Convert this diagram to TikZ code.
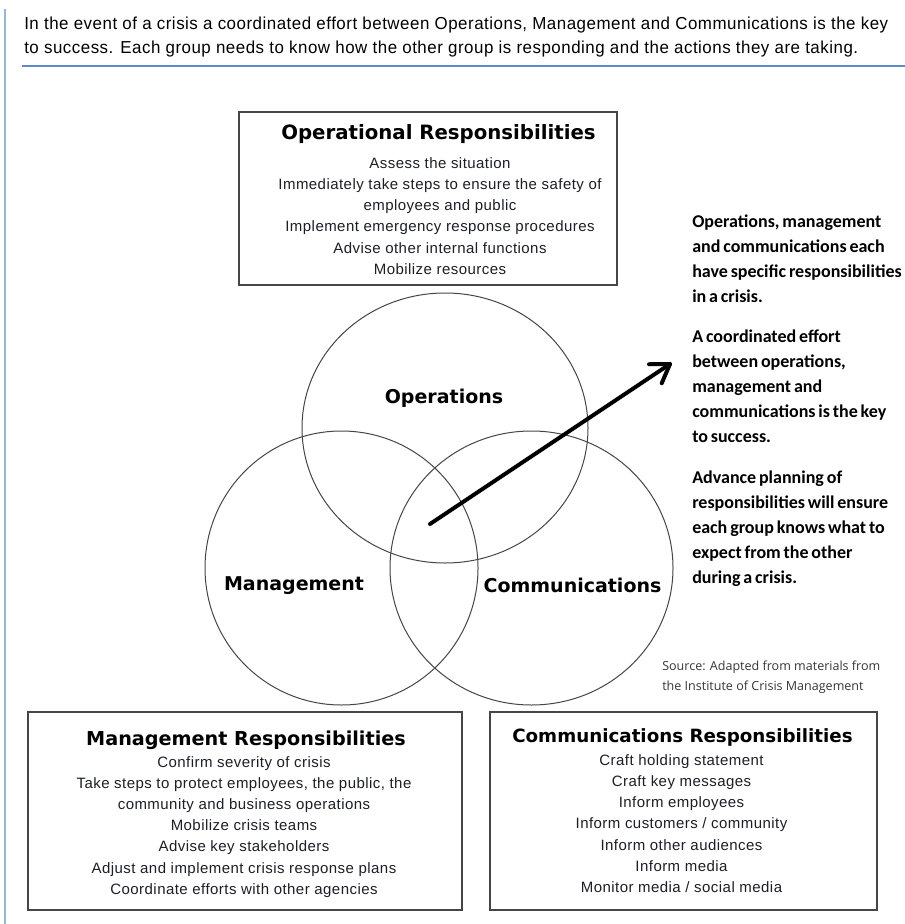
\documentclass[tikz,border=0pt]{standalone}
\usepackage{fontspec}
\usepackage{graphicx}
\setmainfont{Liberation Sans}
\newfontfamily\leadfont{Liberation Sans}[LetterSpace=3]
\newfontfamily\itemfont{Liberation Sans}[LetterSpace=3]
\newfontfamily\headfont{DejaVu Sans}
\newfontfamily\notefont{Carlito}[WordSpace=0.7]
\newfontfamily\srcfont{Open Sans}
\usetikzlibrary{arrows.meta,shapes.geometric,shadows,calc}

\definecolor{rulecol}{RGB}{91,139,201}
\definecolor{margincol}{RGB}{150,182,226}
\definecolor{framecol}{RGB}{70,70,70}
\definecolor{ringcol}{RGB}{70,70,70}
\definecolor{inkcol}{RGB}{30,30,40}
\definecolor{srccol}{RGB}{55,55,55}

\tikzset{
  panel/.style={draw=framecol, fill=white, line width=1.2pt, rectangle, inner sep=0pt,
    drop shadow={shadow xshift=0.8pt, shadow yshift=-0.8pt, opacity=0.25}},
  ring/.style={draw=ringcol, line width=0.75pt, ellipse, inner sep=0pt},
  ringlabel/.style={anchor=base, inner sep=0pt, text=black,
    font=\headfont\bfseries\fontsize{14.25pt}{16pt}\selectfont},
  paneltitle/.style={anchor=base, inner sep=0pt, text=black},
  itemline/.style={anchor=base, inner sep=0pt, text=inkcol,
    font=\itemfont\fontsize{11.25pt}{14pt}\selectfont},
  noteline/.style={anchor=base west, inner sep=0pt, text=black,
    font=\notefont\bfseries\fontsize{13.5pt}{16pt}\selectfont},
  srcline/.style={anchor=base west, inner sep=0pt, text=srccol,
    font=\srcfont\fontsize{9.4pt}{11pt}\selectfont},
  leadline/.style={anchor=base west, inner sep=0pt, text=black,
    font=\leadfont\fontsize{13pt}{15pt}\selectfont},
  pointer/.style={line width=3pt, line cap=round, line join=round, black}
}

\begin{document}
\begin{tikzpicture}[x=0.75pt, y=-0.75pt]
  \useasboundingbox (0,0) rectangle (905,924);
  \fill[white] (0,0) rectangle (905,924);

  % page margin and heading rule
  \coordinate (margintop) at (5,9);
  \coordinate (marginbot) at (5,924);
  \draw[margincol, line width=1.2pt] (margintop) -- (marginbot);
  \coordinate (rulestart) at (22,66);
  \coordinate (ruleend) at (905,66);
  \draw[rulecol, line width=1.2pt] (rulestart) -- (ruleend);

  % introductory paragraph
  \node[leadline] (lead1) at (24,30) {\resizebox{648pt}{\height}{In the event of a crisis a coordinated effort between Operations, Management and Communications is the key}};
  \node[leadline] (lead2) at (24,54) {\resizebox{625.5pt}{\height}{to success. Each group needs to know how the other group is responding and the actions they are taking.}};

  % panels
  \node[panel, minimum width=283.5pt, minimum height=129.75pt] (opbox) at (428,198.5) {};
  \node[panel, minimum width=325.5pt, minimum height=148.5pt] (mgbox) at (245,811) {};
  \node[panel, minimum width=290.25pt, minimum height=148.5pt] (cmbox) at (683.5,811) {};

  % overlapping rings
  \node[ring, minimum width=214.5pt, minimum height=202.5pt] (opring) at (445,428) {};
  \node[ring, minimum width=204.75pt, minimum height=205.5pt] (mgring) at (341.5,568) {};
  \node[ring, minimum width=212.25pt, minimum height=205.5pt] (cmring) at (531.5,568) {};

  % arrow out of the common area, with an open chevron head
  \coordinate (arrowtail) at (430,524);
  \coordinate (arrowtip) at (670,364);
  \coordinate (barbup) at ($(arrowtip)!15.75pt!33:(arrowtail)$);
  \coordinate (barbdown) at ($(arrowtip)!15.75pt!-33:(arrowtail)$);
  \draw[pointer] (arrowtail) -- (arrowtip);
  \draw[pointer] (barbup) -- (arrowtip) -- (barbdown);

  % ring labels
  \node[ringlabel] (oplabel) at (444,403) {Operations};
  \node[ringlabel] (mglabel) at (294,590) {Management};
  \node[ringlabel] (cmlabel) at (572.5,592) {Communications};

  % operational panel text
  \node[paneltitle, font=\headfont\bfseries\fontsize{14.8pt}{16pt}\selectfont] (optitle) at (438.5,139) {Operational Responsibilities};
  \foreach \txt [count=\i] in {{Assess the situation},
      {Immediately take steps to ensure the safety of},
      {employees and public},
      {Implement emergency response procedures},
      {Advise other internal functions},
      {Mobilize resources}}
    \node[itemline] (opitem\i) at (440,{168+21.3*(\i-1)}) {\txt};

  % management panel text
  \node[paneltitle, font=\headfont\bfseries\fontsize{14.4pt}{16pt}\selectfont] (mgtitle) at (246,745) {Management Responsibilities};
  \foreach \txt [count=\i] in {{Confirm severity of crisis},
      {Take steps to protect employees, the public, the},
      {community and business operations},
      {Mobilize crisis teams},
      {Advise key stakeholders},
      {Adjust and implement crisis response plans},
      {Coordinate efforts with other agencies}}
    \node[itemline] (mgitem\i) at (244,{767+21.2*(\i-1)}) {\txt};

  % communications panel text
  \node[paneltitle, font=\headfont\bfseries\fontsize{13.7pt}{16pt}\selectfont] (cmtitle) at (682.5,742) {Communications Responsibilities};
  \foreach \txt [count=\i] in {{Craft holding statement},
      {Craft key messages},
      {Inform employees},
      {Inform customers / community},
      {Inform other audiences},
      {Inform media},
      {Monitor media / social media}}
    \node[itemline] (cmitem\i) at (681.5,{765+21.3*(\i-1)}) {\txt};

  % side notes
  \foreach \txt [count=\i] in {{Operations, management},
      {and communications each},
      {have specific responsibilities},
      {in a crisis.}}
    \node[noteline] (notea\i) at (692,{227+25*(\i-1)}) {\txt};
  \foreach \txt [count=\i] in {{A coordinated effort},
      {between operations,},
      {management and},
      {communications is the key},
      {to success.}}
    \node[noteline] (noteb\i) at (692,{342+25*(\i-1)}) {\txt};
  \foreach \txt [count=\i] in {{Advance planning of},
      {responsibilities will ensure},
      {each group knows what to},
      {expect from the other},
      {during a crisis.}}
    \node[noteline] (notec\i) at (692,{483+25*(\i-1)}) {\txt};

  % source line
  \node[srcline] (src1) at (662,670) {Source: Adapted from materials from};
  \node[srcline] (src2) at (662,690) {the Institute of Crisis Management};
\end{tikzpicture}
\end{document}
